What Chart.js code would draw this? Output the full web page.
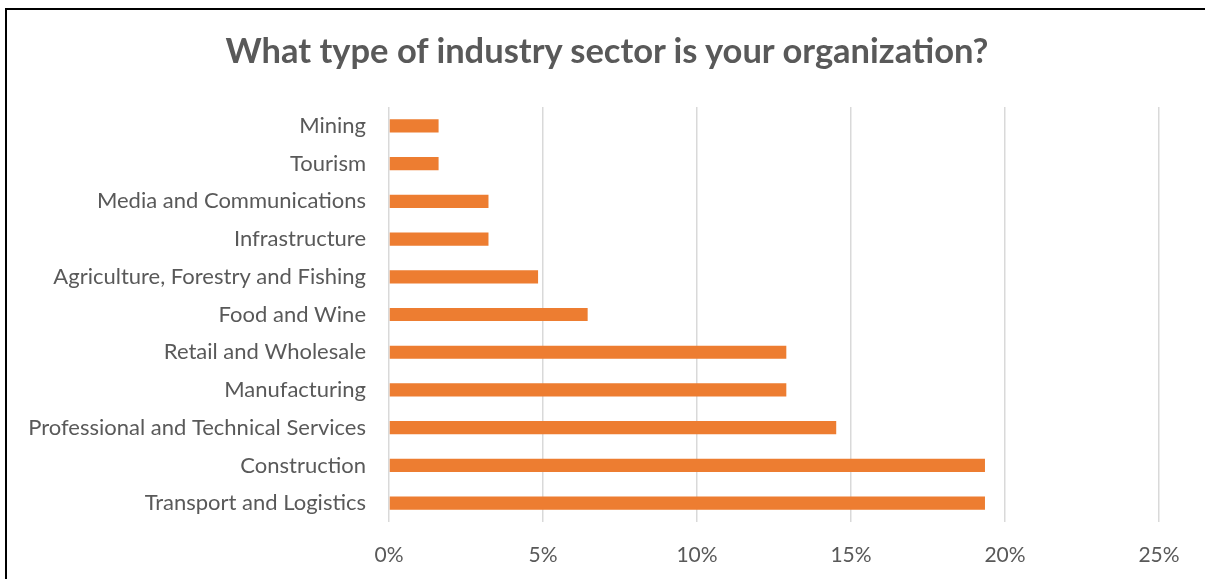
<!DOCTYPE html>
<html>
<head>
<meta charset="utf-8">
<script src="https://cdn.jsdelivr.net/npm/chart.js@4/dist/chart.umd.min.js"></script>
<style>
    body { margin: 0; background: #fff; overflow: hidden; }
    #frame {
        position: absolute; left: 5px; top: 8px; width: 1300px; height: 700px;
        border-top: 2px solid #000; border-left: 2px solid #000;
    }
    #sectorChart { position: absolute; left: 0; top: 0; }
    /* title sits centred on the framed area, not on the plot */
    #chartTitle {
        position: absolute; left: 7px; width: 1200px; top: 29px;
        line-height: 41px; text-align: center; white-space: nowrap;
        font-family: 'Lato'; font-weight: bold; font-size: 34.5px; color: #595959;
    }
</style>
</head>
<body>
<div id="frame"></div>
<canvas id="sectorChart" width="1205" height="579"></canvas>
<div id="chartTitle">What type of industry sector is your organization?</div>
<script>
const sectors = [
    'Mining',
    'Tourism',
    'Media and Communications',
    'Infrastructure',
    'Agriculture, Forestry and Fishing',
    'Food and Wine',
    'Retail and Wholesale',
    'Manufacturing',
    'Professional and Technical Services',
    'Construction',
    'Transport and Logistics'
];
const shares = [1.61, 1.61, 3.23, 3.23, 4.84, 6.45, 12.90, 12.90, 14.52, 19.35, 19.35];
const xTicks = [0, 5, 10, 15, 20, 25];

const textGray = '#595959';

const ctx = document.getElementById('sectorChart').getContext('2d');
const chart = new Chart(ctx, {
    type: 'bar',
    data: {
        labels: sectors,
        datasets: [{
            data: shares,
            backgroundColor: '#ED7D31',
            barPercentage: 0.35,
            categoryPercentage: 1
        }]
    },
    options: {
        indexAxis: 'y',
        responsive: false,
        animation: false,
        layout: { padding: { left: 0, right: 46, top: 107, bottom: 0 } },
        plugins: {
            legend: { display: false },
            tooltip: { enabled: false },
            title: { display: false }
        },
        scales: {
            x: {
                min: 0,
                max: 25,
                afterBuildTicks: scale => { scale.ticks = xTicks.map(v => ({ value: v })); },
                afterFit: scale => { scale.height = 57; },
                grid: { color: '#D9D9D9', lineWidth: 1.5, drawTicks: false },
                border: { display: false },
                ticks: {
                    color: textGray,
                    font: { family: 'Lato', size: 21 },
                    padding: 21,
                    callback: v => v + '%'
                }
            },
            y: {
                afterFit: scale => { scale.width = 389; },
                grid: { display: false, drawTicks: false },
                border: { display: false },
                ticks: {
                    color: textGray,
                    font: { family: 'Lato', size: 22 },
                    padding: 23
                }
            }
        }
    }
});
</script>
</body>
</html>
